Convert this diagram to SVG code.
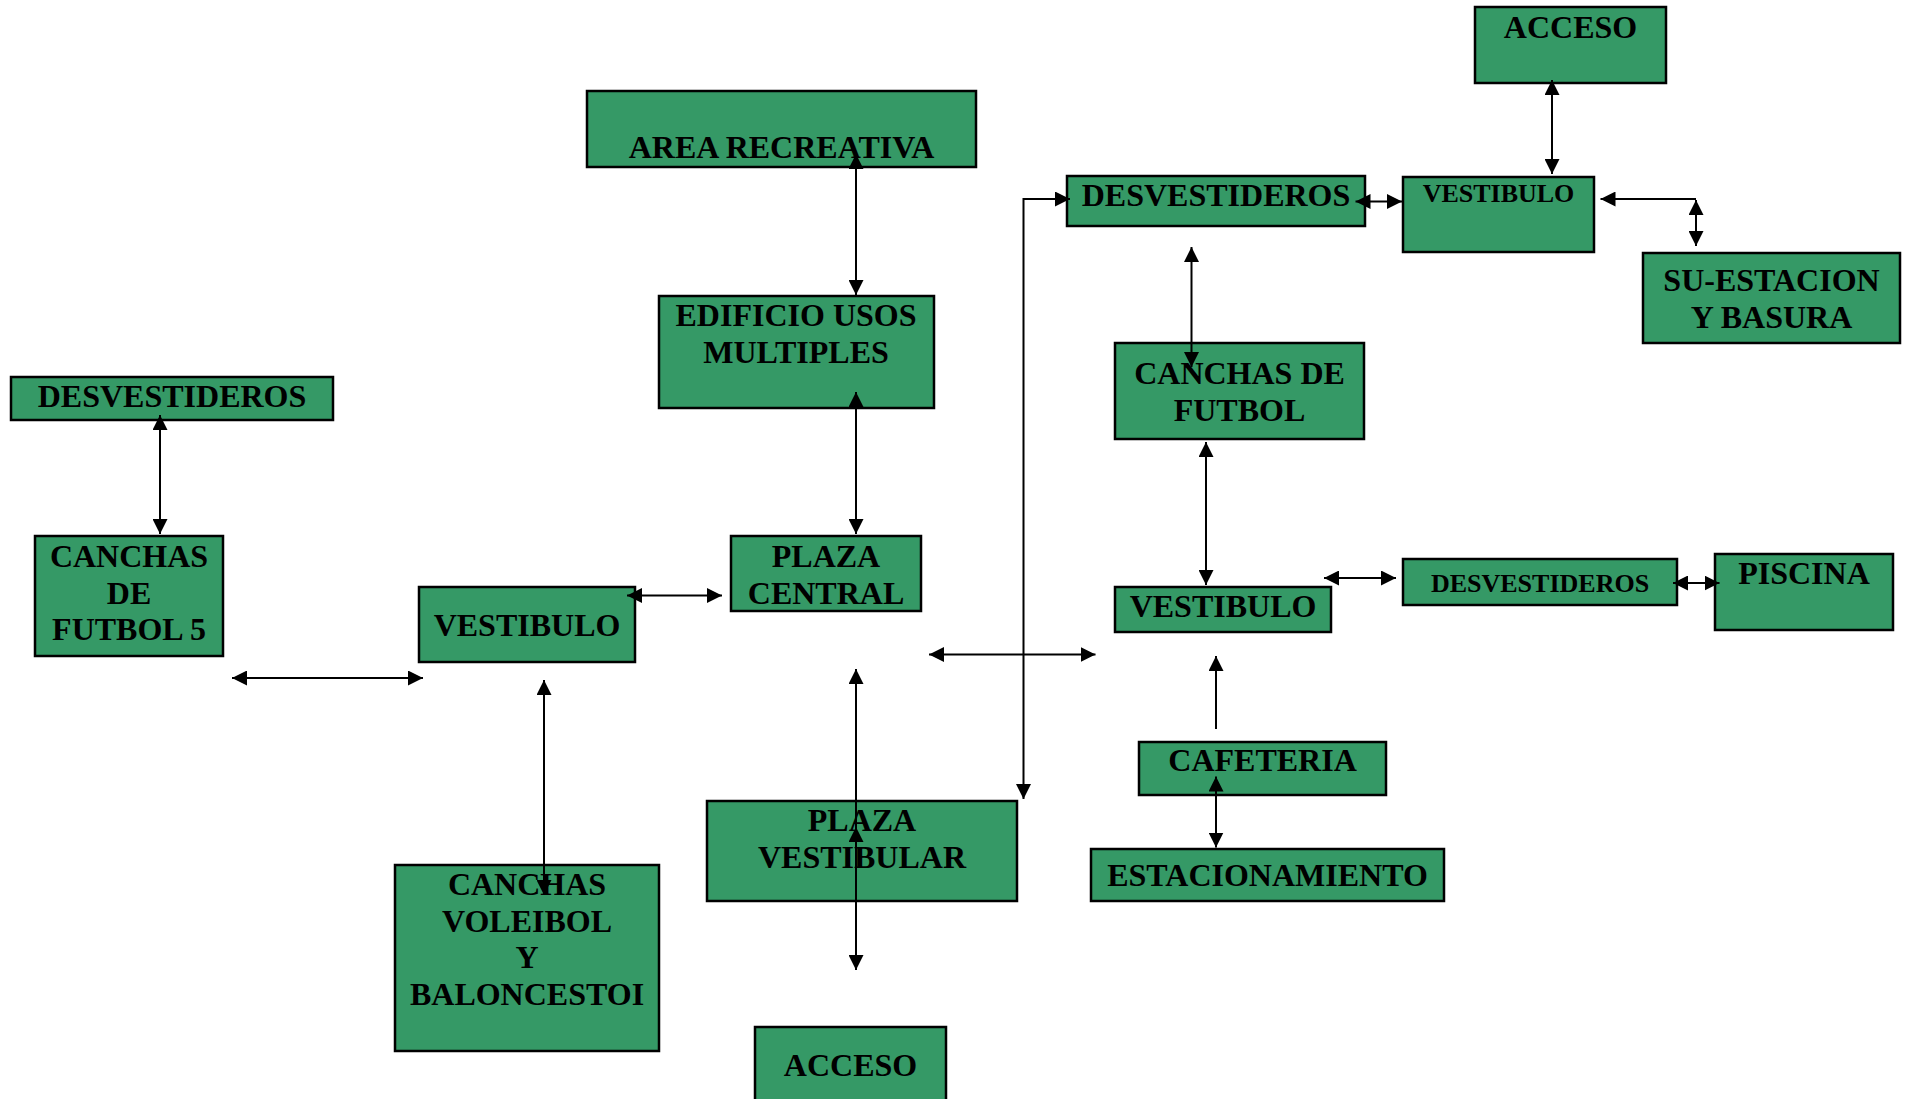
<svg xmlns="http://www.w3.org/2000/svg" width="1909" height="1099" viewBox="0 0 1909 1099">
  <style>
    .box { fill: #359966; stroke: #000; stroke-width: 2.5; }
    .lbl { font-family: "Liberation Serif", "Times New Roman", serif; font-weight: bold; font-size: 32px; fill: #000; text-anchor: middle; }
    .sm { font-size: 26px; }
    .ln { fill: none; stroke: #000; stroke-width: 2; }
    .both { marker-start: url(#ah); marker-end: url(#ah); }
    .end { marker-end: url(#ah); }
    .start { marker-start: url(#ah); }
  </style>
  <defs>
    <marker id="ah" viewBox="0 0 15 15" refX="15" refY="7.5" markerWidth="15" markerHeight="15" markerUnits="userSpaceOnUse" orient="auto-start-reverse">
      <path d="M0,0 L15,7.5 L0,15 z" fill="#000"/>
    </marker>
  </defs>
  <rect width="1909" height="1099" fill="#fff"/>

  <g id="area-recreativa">
    <rect class="box" x="587" y="91" width="389" height="76"/>
    <text class="lbl" x="781.5" y="158">AREA RECREATIVA</text>
  </g>
  <g id="edificio-usos-multiples">
    <rect class="box" x="659" y="296" width="275" height="112"/>
    <text class="lbl" x="796" y="326">EDIFICIO USOS</text>
    <text class="lbl" x="796" y="362.5">MULTIPLES</text>
  </g>
  <g id="desvestideros-oeste">
    <rect class="box" x="11" y="377" width="322" height="43"/>
    <text class="lbl" x="172" y="407">DESVESTIDEROS</text>
  </g>
  <g id="canchas-futbol-5">
    <rect class="box" x="35" y="536" width="188" height="120"/>
    <text class="lbl" x="129" y="567">CANCHAS</text>
    <text class="lbl" x="129" y="603.5">DE</text>
    <text class="lbl" x="129" y="640">FUTBOL 5</text>
  </g>
  <g id="vestibulo-oeste">
    <rect class="box" x="419" y="587" width="216" height="75"/>
    <text class="lbl" x="527" y="635.5">VESTIBULO</text>
  </g>
  <g id="plaza-central">
    <rect class="box" x="731" y="536" width="190" height="75"/>
    <text class="lbl" x="826" y="567">PLAZA</text>
    <text class="lbl" x="826" y="603.5">CENTRAL</text>
  </g>
  <g id="canchas-voleibol">
    <rect class="box" x="395" y="865" width="264" height="186"/>
    <text class="lbl" x="527" y="895">CANCHAS</text>
    <text class="lbl" x="527" y="931.5">VOLEIBOL</text>
    <text class="lbl" x="527" y="968">Y</text>
    <text class="lbl" x="527" y="1005">BALONCESTOI</text>
  </g>
  <g id="plaza-vestibular">
    <rect class="box" x="707" y="801" width="310" height="100"/>
    <text class="lbl" x="862" y="831">PLAZA</text>
    <text class="lbl" x="862" y="867.5">VESTIBULAR</text>
  </g>
  <g id="acceso-sur">
    <rect class="box" x="755" y="1027" width="191" height="90"/>
    <text class="lbl" x="850.5" y="1076">ACCESO</text>
  </g>
  <g id="desvestideros-norte">
    <rect class="box" x="1067" y="176" width="298" height="50"/>
    <text class="lbl" x="1216" y="205.5">DESVESTIDEROS</text>
  </g>
  <g id="vestibulo-norte">
    <rect class="box" x="1403" y="177" width="191" height="75"/>
    <text class="lbl sm" x="1498.5" y="201.5">VESTIBULO</text>
  </g>
  <g id="acceso-norte">
    <rect class="box" x="1475" y="7" width="191" height="76"/>
    <text class="lbl" x="1570.5" y="37.5">ACCESO</text>
  </g>
  <g id="subestacion-basura">
    <rect class="box" x="1643" y="253" width="257" height="90"/>
    <text class="lbl" x="1771.5" y="291">SU-ESTACION</text>
    <text class="lbl" x="1771.5" y="327.5">Y BASURA</text>
  </g>
  <g id="canchas-futbol">
    <rect class="box" x="1115" y="343" width="249" height="96"/>
    <text class="lbl" x="1239.5" y="383.5">CANCHAS DE</text>
    <text class="lbl" x="1239.5" y="420.5">FUTBOL</text>
  </g>
  <g id="vestibulo-este">
    <rect class="box" x="1115" y="587" width="216" height="45"/>
    <text class="lbl" x="1223" y="617">VESTIBULO</text>
  </g>
  <g id="desvestideros-este">
    <rect class="box" x="1403" y="559" width="274" height="46"/>
    <text class="lbl sm" x="1540" y="591.5">DESVESTIDEROS</text>
  </g>
  <g id="piscina">
    <rect class="box" x="1715" y="554" width="178" height="76"/>
    <text class="lbl" x="1804" y="583.5">PISCINA</text>
  </g>
  <g id="cafeteria">
    <rect class="box" x="1139" y="742" width="247" height="53"/>
    <text class="lbl" x="1262.5" y="771">CAFETERIA</text>
  </g>
  <g id="estacionamiento">
    <rect class="box" x="1091" y="849" width="353" height="52"/>
    <text class="lbl" x="1267.5" y="886">ESTACIONAMIENTO</text>
  </g>

  <g id="connectors">
    <path class="ln both" d="M856,154 V295"/>
    <path class="ln both" d="M856,392 V534"/>
    <path class="ln both" d="M627,595.5 H722"/>
    <path class="ln both" d="M232,678 H423"/>
    <path class="ln both" d="M160,415 V534"/>
    <path class="ln both" d="M544,680 V895"/>
    <path class="ln start" d="M856,669 V827"/>
    <path class="ln both" d="M856,827 V970"/>
    <path class="ln both" d="M929,654.5 H1095.5"/>
    <path class="ln both" d="M1023.5,799 V199 H1070"/>
    <path class="ln both" d="M1191.5,247 V367"/>
    <path class="ln both" d="M1206,442 V585"/>
    <path class="ln both" d="M1355.5,201.5 H1402"/>
    <path class="ln both" d="M1552,80 V174"/>
    <path class="ln end" d="M1696,199 H1600.5"/>
    <path class="ln both" d="M1696,200 V246"/>
    <path class="ln both" d="M1324,578 H1396"/>
    <path class="ln both" d="M1673,583 H1719.5"/>
    <path class="ln end" d="M1216,729 V656"/>
    <path class="ln both" d="M1216,776.5 V847.5"/>
  </g>
</svg>
